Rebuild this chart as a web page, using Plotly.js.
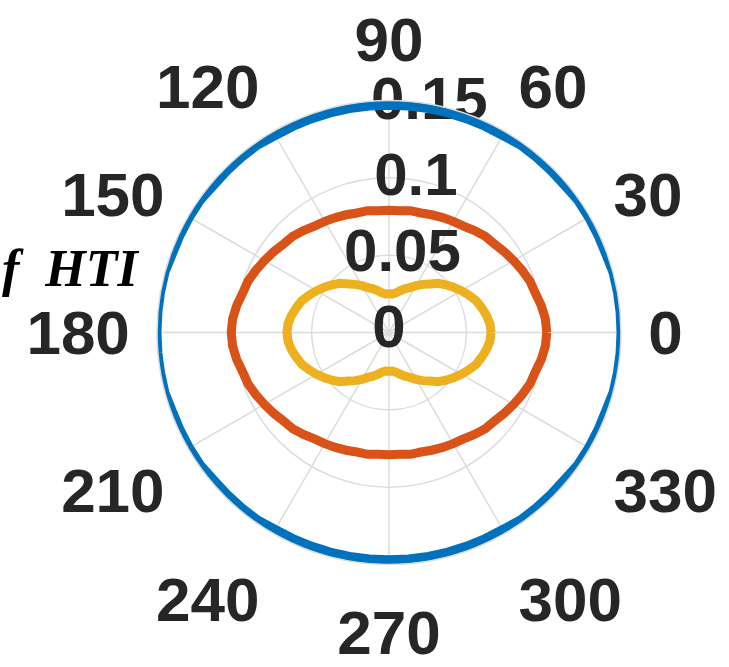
<!DOCTYPE html>
<html>
<head>
<meta charset="utf-8">
<script src="https://cdn.plot.ly/plotly-3.0.1.min.js"></script>
<style>html,body{margin:0;padding:0;background:#fff;}#chart{width:729px;height:667px;}</style>
</head>
<body>
<div id="chart"></div>
<script>
// Angles (degrees) and radii
var theta = [0,5,10,15,20,25,30,35,40,45,50,55,60,65,70,75,80,85,90,
             95,100,105,110,115,120,125,130,135,140,145,150,155,160,165,170,175,180,
             185,190,195,200,205,210,215,220,225,230,235,240,245,250,255,260,265,270,
             275,280,285,290,295,300,305,310,315,320,325,330,335,340,345,350,355,360];
var rBlue = [0.150,0.150,0.150,0.150,0.149,0.149,0.149,0.149,0.148,0.148,0.148,0.148,0.147,0.147,0.147,0.147,0.147,0.147,0.147,
             0.147,0.147,0.147,0.147,0.147,0.147,0.148,0.148,0.148,0.148,0.149,0.149,0.149,0.149,0.150,0.150,0.150,0.150,
             0.150,0.150,0.150,0.149,0.149,0.149,0.149,0.148,0.148,0.148,0.148,0.147,0.147,0.147,0.147,0.147,0.147,0.147,
             0.147,0.147,0.147,0.147,0.147,0.147,0.148,0.148,0.148,0.148,0.149,0.149,0.149,0.149,0.150,0.150,0.150,0.150];
var rOrange = [0.102,0.1015,0.100,0.098,0.097,0.095,0.093,0.091,0.089,0.088,0.086,0.084,0.083,0.082,0.081,0.080,0.080,0.079,0.079,
               0.079,0.080,0.080,0.081,0.082,0.083,0.084,0.086,0.088,0.089,0.091,0.093,0.095,0.097,0.098,0.100,0.1015,0.102,
               0.1015,0.100,0.098,0.097,0.095,0.093,0.091,0.089,0.088,0.086,0.084,0.083,0.082,0.081,0.080,0.080,0.079,0.079,
               0.079,0.080,0.080,0.081,0.082,0.083,0.084,0.086,0.088,0.089,0.091,0.093,0.095,0.097,0.098,0.100,0.1015,0.102];
var rYellow = [0.066,0.0655,0.064,0.062,0.060,0.057,0.054,0.051,0.048,0.045,0.041,0.038,0.035,0.032,0.030,0.028,0.026,0.025,0.025,
               0.025,0.026,0.028,0.030,0.032,0.035,0.038,0.041,0.045,0.048,0.051,0.054,0.057,0.060,0.062,0.064,0.0655,0.066,
               0.0655,0.064,0.062,0.060,0.057,0.054,0.051,0.048,0.045,0.041,0.038,0.035,0.032,0.030,0.028,0.026,0.025,0.025,
               0.025,0.026,0.028,0.030,0.032,0.035,0.038,0.041,0.045,0.048,0.051,0.054,0.057,0.060,0.062,0.064,0.0655,0.066];

var angTicks = [0,30,60,90,120,150,180,210,240,270,300,330];
var angLabels = ['0','30','60','90','120','150','180','210','240','270','300','330'];
var radTicks = [0,0.05,0.1,0.15];
var radLabels = ['0','0.05','0.1','0.15'];
var radLabelAngle = [80,80,80,80];
var yLabel = 'f\u00A0\u00A0HTI';

var txtColor = '#262626';
var traces = [
  {type:'scatterpolar', mode:'text', r:radTicks, theta:radLabelAngle, text:radLabels,
   textposition:'middle center', cliponaxis:false,
   textfont:{family:'Liberation Sans, Arial, sans-serif', size:60, color:txtColor, weight:'bold'},
   hoverinfo:'skip', showlegend:false},
  {type:'scatterpolar', mode:'lines', r:rBlue, theta:theta, line:{color:'#0072BD', width:9, simplify:false}, showlegend:false, cliponaxis:false},
  {type:'scatterpolar', mode:'lines', r:rOrange, theta:theta, line:{color:'#D95319', width:9, simplify:false}, showlegend:false},
  {type:'scatterpolar', mode:'lines', r:rYellow, theta:theta, line:{color:'#EDB120', width:9, simplify:false}, showlegend:false}
];

var layout = {
  width:729, height:667,
  margin:{l:0,r:0,t:0,b:0},
  paper_bgcolor:'#ffffff',
  showlegend:false,
  polar:{
    domain:{x:[0.21536,0.85185], y:[0.15367,0.84933]},
    bgcolor:'#ffffff',
    radialaxis:{range:[0,0.15], tickvals:[0.05,0.1,0.15], showticklabels:false, ticks:'',
      showline:false, gridcolor:'#dcdcdc', gridwidth:1.5},
    angularaxis:{direction:'counterclockwise', rotation:0, tickmode:'array', tickvals:angTicks, ticktext:angLabels,
      ticks:'outside', ticklen:14, tickcolor:'rgba(0,0,0,0)',
      tickfont:{family:'Liberation Sans, Arial, sans-serif', size:62, color:txtColor, weight:'bold'},
      showline:true, linecolor:'#dcdcdc', linewidth:1.5, gridcolor:'#dcdcdc', gridwidth:1.5}
  },
  annotations:[{text:yLabel, xref:'paper', yref:'paper', x:71/729, y:1-268/667, showarrow:false,
    xanchor:'center', yanchor:'middle',
    font:{family:'Liberation Serif, DejaVu Serif, serif', size:52, color:'#000000', weight:'bold', style:'italic'}}]
};
Plotly.newPlot('chart', traces, layout, {staticPlot:true, displayModeBar:false});
</script>
</body>
</html>
